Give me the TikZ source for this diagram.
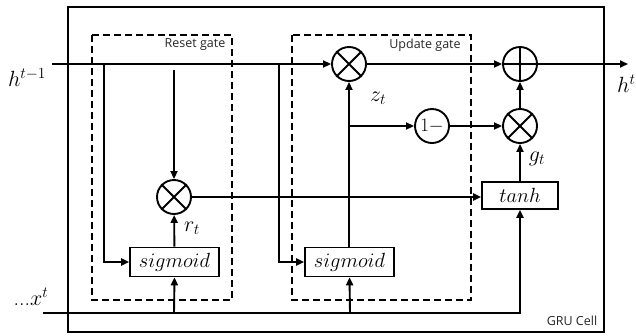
\RequirePackage{fix-cm}
\documentclass[tikz,border=0pt]{standalone}
\usepackage{fontspec}
\setsansfont{Open Sans}
\usetikzlibrary{arrows.meta}
\begin{document}
\begin{tikzpicture}[x=1pt,y=-1pt,
  wire/.style={line width=1.9pt,-{Triangle[length=8pt,width=7pt]}},
  plain/.style={line width=1.9pt},
  circ/.style={circle,draw,line width=1.9pt,minimum size=34pt,inner sep=0pt},
  opbox/.style={draw,line width=1.6pt,inner sep=0pt,font=\fontsize{20.5}{24}\selectfont},
  gatebox/.style={draw,line width=1.4pt,dash pattern=on 7pt off 4pt},
  gatelabel/.style={font=\sffamily\fontsize{12.5}{15}\selectfont,text=black!85},
  mlabel/.style={font=\fontsize{22}{26}\selectfont}]
\useasboundingbox (0,0) rectangle (636,335);
% outer box
\draw[line width=1.4pt] (68,7) rectangle (604,332);
\node[gatelabel] (gru) at (572,321) {GRU Cell};
% gate boxes
\draw[gatebox] (92,35) rectangle (232,300);
\draw[gatebox] (292,35) rectangle (471,300);
\node[gatelabel] (rg) at (195,45) {Reset gate};
\node[gatelabel] (ug) at (425,45) {Update gate};
% operation nodes
\node[circ] (m1) at (174,197) {};
\draw[plain] (m1.north west) -- (m1.south east) (m1.north east) -- (m1.south west);
\node[circ] (m2) at (349,64) {};
\draw[plain] (m2.north west) -- (m2.south east) (m2.north east) -- (m2.south west);
\node[circ] (m3) at (520,126) {};
\draw[plain] (m3.north west) -- (m3.south east) (m3.north east) -- (m3.south west);
\node[circ] (pl) at (520,64) {};
\draw[plain] (pl.north) -- (pl.south) (pl.west) -- (pl.east);
\node[circ,font=\fontsize{19}{21}\selectfont] (om) at (432,126) {$1-$};
\node[opbox,minimum width=89pt,minimum height=29pt] (s1) at (174.5,262) {$sigmoid$};
\node[opbox,minimum width=89pt,minimum height=29pt] (s2) at (349.5,262) {$sigmoid$};
\node[opbox,minimum width=76pt,minimum height=27pt] (th) at (520,195.5) {$tanh$};
% labels
\node[mlabel] (lh) at (27,78) {$h^{t-1}$};
\node[mlabel,anchor=east] (lho) at (639,84) {$h^{t}$};
\node[mlabel] (lx) at (31,297) {...$x^{t}$};
\node[mlabel] (lr) at (192,228) {$r_t$};
\node[mlabel] (lz) at (378,98) {$z_t$};
\node[mlabel] (lg) at (537,159) {$g_t$};
% coordinates
\coordinate (hin) at (52,64);
\coordinate (hout) at (628,64);
\coordinate (b1) at (104,64);
\coordinate (b2) at (174,70);
\coordinate (b3) at (279,65);
\coordinate (zj) at (349,126);
\coordinate (xin) at (43,313);
\coordinate (x1) at (174,313);
\coordinate (x2) at (350,313);
% wires
\draw[wire] (hin) -- (m2);
\draw[wire] (m2) -- (pl);
\draw[wire] (pl) -- (hout);
\draw[wire] (b1) |- (s1.west);
\draw[wire] (b2) -- (m1);
\draw[wire] (b3) |- (s2.west);
\draw[wire] (s1) -- (m1);
\draw[wire] (m1) -- (m1 -| th.west);
\draw[wire] (s2.north -| m2) -- (m2);
\draw[wire] (zj) -- (om);
\draw[wire] (om) -- (m3);
\draw[wire] (m3) -- (pl);
\draw[wire] (th) -- (m3);
\draw[wire] (xin) -| (th.south);
\draw[wire] (x1) -- (s1.south);
\draw[wire] (x2) -- (s2.south);
\end{tikzpicture}
\end{document}
